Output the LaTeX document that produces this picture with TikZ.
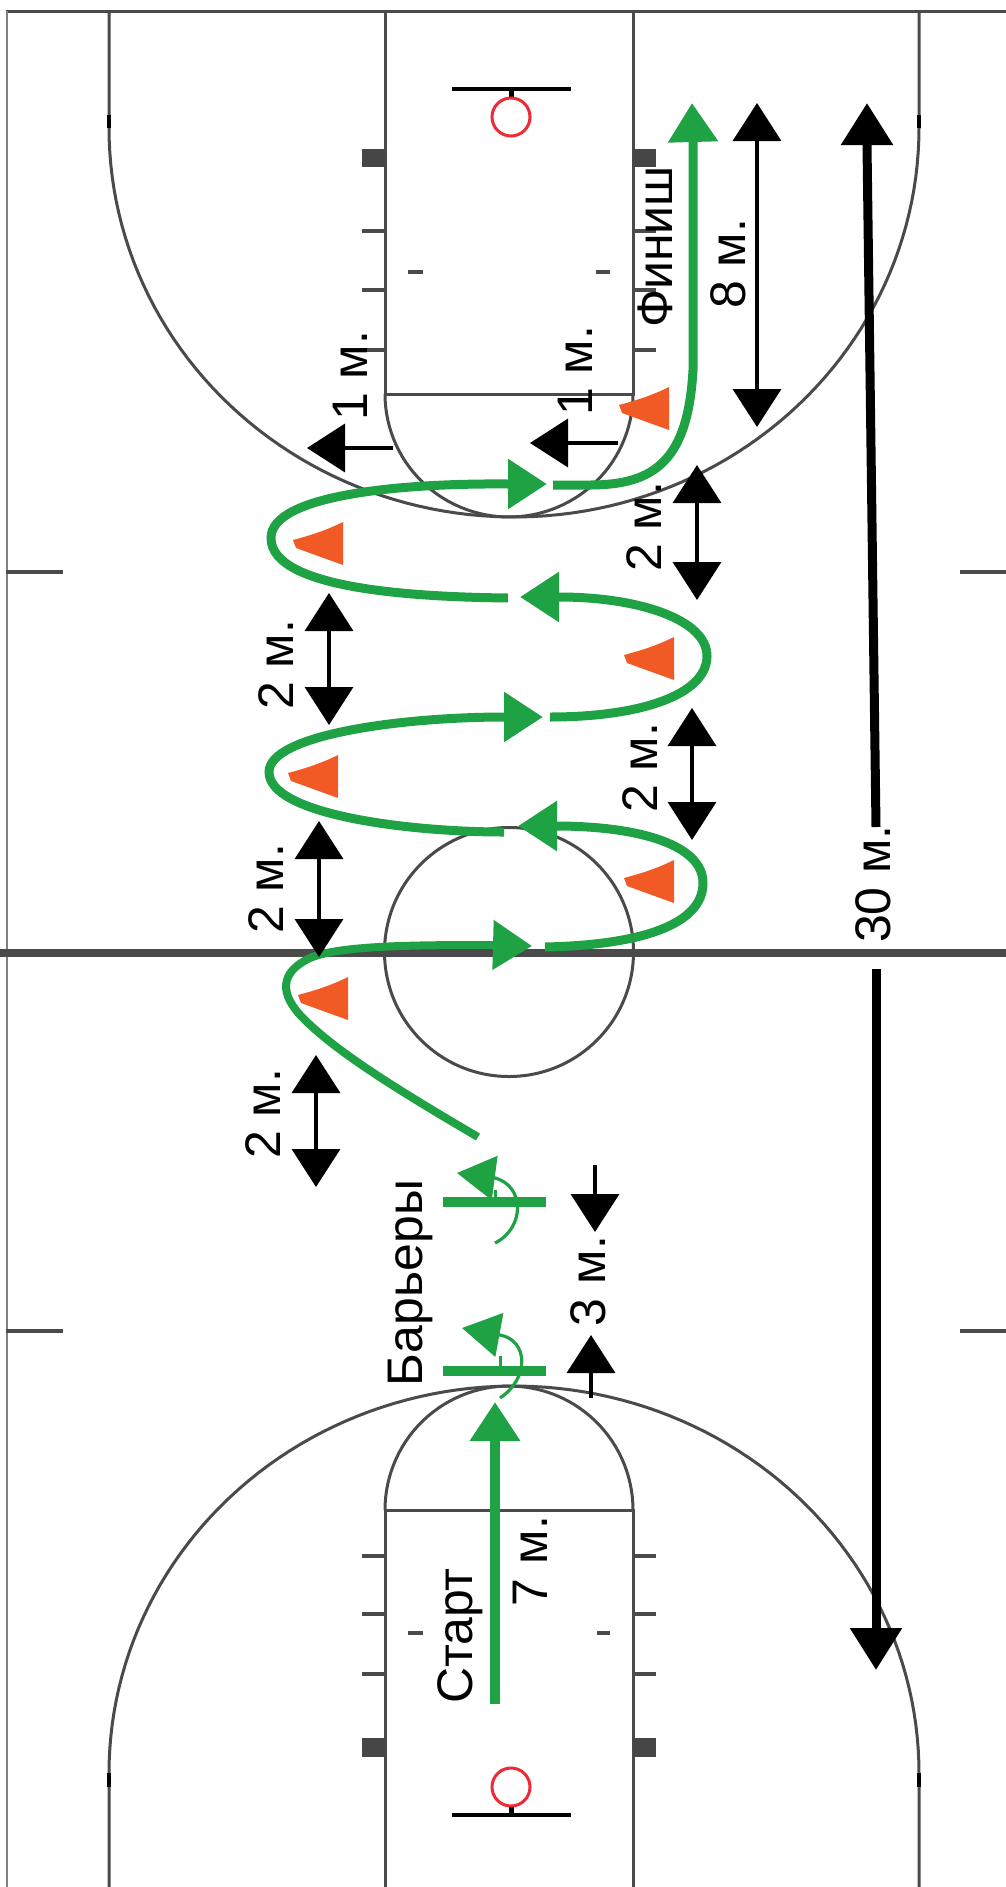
\documentclass[tikz,border=0pt]{standalone}
\usepackage{fontspec}
\setmainfont{Liberation Sans}
\usetikzlibrary{arrows.meta}
\definecolor{court}{HTML}{4A4A4A}
\definecolor{gr}{HTML}{1FA244}
\definecolor{org}{HTML}{F15A24}
\definecolor{ringred}{HTML}{EE2A35}
\tikzset{
 courtline/.style={draw=court,line width=3pt},
 edgeline/.style={draw=court!70!white,line width=1.6pt},
 tick/.style={draw=court,line width=3.2pt},
 arcmark/.style={draw=black,line width=3.6pt},
 block/.style={fill=court!95!black},
 board/.style={draw=black,line width=3.6pt},
 ring/.style={draw=ringred,line width=3pt},
 lbl/.style={rotate=90,anchor=base,inner sep=0pt,font=\fontsize{50}{60}\selectfont},
 greenpath/.style={draw=gr,line width=9pt,-{Triangle[length=39pt,width=48pt]}},
 hurdle/.style={draw=gr,line width=10pt},
 hurdlearrow/.style={draw=gr,line width=3.2pt,-{Triangle[length=38pt,width=44pt]}},
 hurdlestem/.style={draw=gr,line width=3pt},
 dimboth/.style={draw=black,line width=3.6pt,{Triangle[length=38pt,width=48pt]}-{Triangle[length=38pt,width=48pt]}},
 dimone/.style={draw=black,line width=3.6pt,-{Triangle[length=38pt,width=48pt]}},
 dimbig/.style={draw=black,line width=9pt,-{Triangle[length=42pt,width=50pt]}},
 pics/conepic/.style={code={\fill[org] (50,-18) .. controls (32,-9) and (15,-4) .. (0,0) -- (3,8) -- (50,25) -- cycle;}}
}
\begin{document}
\begin{tikzpicture}[x=1pt,y=-1pt]
\useasboundingbox (0,0) rectangle (1006,1887);
\fill[white] (0,0) rectangle (1006,1887);
% outer lines
\draw[courtline] (6,11) -- (1006,11);
\draw[edgeline] (7,11) -- (7,1887);
\draw[tick,line width=3.6pt] (6,572) -- (63,572);
\draw[tick,line width=3.6pt] (960,572) -- (1006,572);
\draw[tick,line width=3.6pt] (6,1331) -- (63,1331);
\draw[tick,line width=3.6pt] (960,1331) -- (1006,1331);
\draw[draw=court,line width=7.5pt] (0,953) -- (1006,953);
\draw[courtline] (509,952) circle[radius=124.5];
% top half court
\draw[courtline] (385,11) -- (385,394) -- (633,394) -- (633,11);
\draw[courtline] plot[domain=0:180,samples=60] ({509+124*cos(\x)},{394+123*sin(\x)});
\draw[courtline] (919,11) -- plot[domain=0:180,samples=100] ({514+405*cos(\x)},{128+389*sin(\x)}) -- (109,11);
\draw[arcmark] (109,115) -- (109,128);
\draw[arcmark] (919,115) -- (919,128);
\fill[block] (362,149) rectangle (385,167);
\fill[block] (633,149) rectangle (656,167);
\foreach \yy in {231,290,350}{
 \draw[tick] (362,\yy) -- (385,\yy);
 \draw[tick] (633,\yy) -- (656,\yy);
}
\draw[tick] (408,272) -- (423,272);
\draw[tick] (596,272) -- (610,272);
\draw[board] (452,89) -- (571,89);
\draw[board,line width=5pt] (511,89) -- (511,98);
\draw[ring] (511,117) circle[radius=19];
% bottom half court
\draw[courtline] (385,1887) -- (385,1510) -- (633,1510) -- (633,1887);
\draw[courtline] plot[domain=180:360,samples=60] ({509+124*cos(\x)},{1510+124*sin(\x)});
\draw[courtline] (109,1887) -- plot[domain=180:360,samples=100] ({514+405*cos(\x)},{1773+387*sin(\x)}) -- (919,1887);
\draw[arcmark] (109,1773) -- (109,1787);
\draw[arcmark] (919,1773) -- (919,1787);
\fill[block] (362,1738) rectangle (385,1757);
\fill[block] (633,1738) rectangle (656,1757);
\foreach \yy in {1556,1614,1674}{
 \draw[tick] (362,\yy) -- (385,\yy);
 \draw[tick] (633,\yy) -- (656,\yy);
}
\draw[tick] (408,1633) -- (423,1633);
\draw[tick] (597,1633) -- (610,1633);
\draw[board] (452,1815) -- (571,1815);
\draw[board,line width=5pt] (511,1805) -- (511,1815);
\draw[ring] (511,1787) circle[radius=19];
% labels
\node[lbl] (tbar) at (422,1283) {Барьеры};
\node[lbl] (tthree) at (605,1281) {3 м.};
\node[lbl] (ttwoa) at (280,1114) {2 м.};
\node[lbl] (ttwob) at (283,889) {2 м.};
\node[lbl] (ttwoc) at (293,665) {2 м.};
\node[lbl] (ttwod) at (657,768) {2 м.};
\node[lbl] (ttwoe) at (661,527) {2 м.};
\node[lbl] (teight) at (745,264) {8 м.};
\node[lbl] (tfin) at (672,247) {Финиш};
\node[lbl] (tonea) at (367,376) {1 м.};
\node[lbl] (toneb) at (592,371) {1 м.};
\node[lbl] (tstart) at (472,1636) {Старт};
\node[lbl] (tseven) at (547,1561) {7 м.};
\node[lbl] (tthirty) at (890,884) {30 м.};
% cones
\pic (cna) at (619,405) {conepic};
\pic (cnb) at (293,540) {conepic};
\pic (cnc) at (624,655) {conepic};
\pic (cnd) at (288,773) {conepic};
\pic (cne) at (624,878) {conepic};
\pic (cnf) at (298,995) {conepic};
% green route
\coordinate (s0) at (495,1704);
\coordinate (s1) at (495,1402);
\draw[greenpath,line width=10pt] (s0) -- (s1);
\draw[hurdle] (443,1371) -- (546,1371);
\draw[hurdle] (443,1202) -- (546,1202);
\draw[hurdlearrow] (500,1398) .. controls (530,1378) and (528,1340) .. (500,1335) -- (462,1328);
\draw[hurdlestem] (500,1356) -- (500,1371);
\draw[hurdlearrow] (495,1243) .. controls (525,1228) and (525,1186) .. (495,1178) -- (457,1173);
\draw[hurdlestem] (495,1190) -- (495,1202);
\draw[greenpath,line width=8pt] (478,1137) .. controls (410,1097) and (340,1055) .. (305,1020) .. controls (278,994) and (280,972) .. (310,958) .. controls (340,945) and (420,945) .. (495,945) -- (532,946);
\draw[greenpath] (545,947) .. controls (640,945) and (703,925) .. (703,883) .. controls (703,845) and (640,826) .. (555,826) -- (518,826);
\draw[greenpath] (504,832) .. controls (410,832) and (269,815) .. (269,772) .. controls (269,735) and (400,717) .. (505,717) -- (543,717);
\draw[greenpath] (550,717) .. controls (640,717) and (707,695) .. (707,656) .. controls (707,620) and (640,597) .. (559,597) -- (520,597);
\draw[greenpath] (508,598) .. controls (420,597) and (271,590) .. (271,538) .. controls (271,495) and (400,483) .. (508,484) -- (547,484);
\draw[greenpath] (553,485) -- (590,485) .. controls (655,485) and (688,460) .. (693,370) -- (693,140) -- (692,103);
% dimension arrows
\coordinate (a1) at (316,1055); \coordinate (a2) at (316,1187);
\draw[dimboth] (a1) -- (a2);
\coordinate (b1) at (319,821); \coordinate (b2) at (319,957);
\draw[dimboth] (b1) -- (b2);
\coordinate (c1) at (329,593); \coordinate (c2) at (329,725);
\draw[dimboth] (c1) -- (c2);
\coordinate (d1) at (692,708); \coordinate (d2) at (692,840);
\draw[dimboth] (d1) -- (d2);
\coordinate (e1) at (697,465); \coordinate (e2) at (697,600);
\draw[dimboth] (e1) -- (e2);
\coordinate (f1) at (757,103); \coordinate (f2) at (757,427);
\draw[dimboth] (f1) -- (f2);
\coordinate (g1) at (595,1165); \coordinate (g2) at (595,1232);
\draw[dimone] (g1) -- (g2);
\coordinate (h1) at (591,1398); \coordinate (h2) at (591,1335);
\draw[dimone] (h1) -- (h2);
\coordinate (i1) at (393,448); \coordinate (i2) at (307,448);
\draw[dimone] (i1) -- (i2);
\coordinate (j1) at (618,443); \coordinate (j2) at (530,443);
\draw[dimone] (j1) -- (j2);
\coordinate (k0) at (867,145);
\coordinate (k1) at (876,827); \coordinate (k2) at (867,103);
\draw[dimbig] (k1) -- (k0) -- (k2);
\coordinate (l1) at (876,969); \coordinate (l2) at (876,1670);
\draw[dimbig] (l1) -- (l2);
\end{tikzpicture}
\end{document}
